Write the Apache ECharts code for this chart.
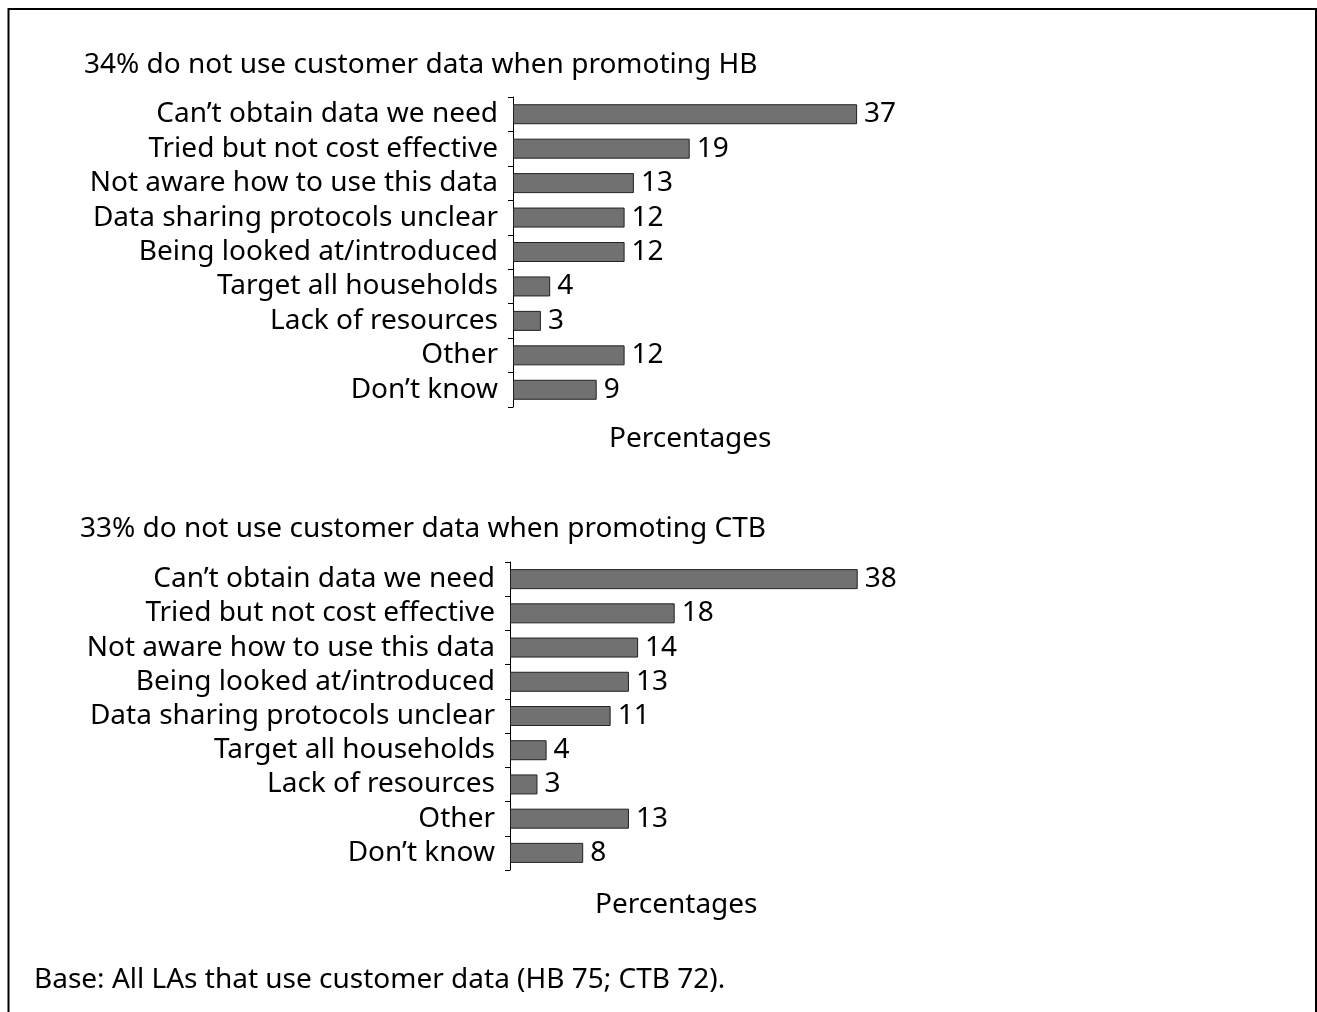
<!DOCTYPE html>
<html><head><meta charset="utf-8">
<script src="https://cdn.jsdelivr.net/npm/echarts@6/dist/echarts.min.js"></script>
<style>html,body{margin:0;padding:0;background:#fff}#c{width:1317px;height:1012px}</style>
</head><body><div id="c"></div>
<script>
const hbCategories = ["Can\u2019t obtain data we need","Tried but not cost effective","Not aware how to use this data","Data sharing protocols unclear","Being looked at/introduced","Target all households","Lack of resources","Other","Don\u2019t know"];
const hbValues = [37,19,13,12,12,4,3,12,9];
const ctbCategories = ["Can\u2019t obtain data we need","Tried but not cost effective","Not aware how to use this data","Being looked at/introduced","Data sharing protocols unclear","Target all households","Lack of resources","Other","Don\u2019t know"];
const ctbValues = [38,18,14,13,11,4,3,13,8];
const titleHB = "34% do not use customer data when promoting HB";
const titleCTB = "33% do not use customer data when promoting CTB";
const axisName = "Percentages";
const baseNote = "Base: All LAs that use customer data (HB 75; CTB 72).";

const FONT = "Noto Sans";
const FS = 28;
const chart = echarts.init(document.getElementById('c'), null, {renderer:'canvas'});
function catAxis(idx, cats){
  return {type:'category', gridIndex:idx, data:cats, inverse:true,
    axisLine:{show:true, lineStyle:{color:'#000', width:1}},
    axisTick:{show:true, length:5, lineStyle:{color:'#000'}},
    axisLabel:{color:'#000', fontFamily:FONT, fontSize:FS, margin:15, interval:0, hideOverlap:false}};
}
function valAxis(idx){
  return {type:'value', gridIndex:idx, min:0, max:40, show:false};
}
function bars(idx, vals){
  return {type:'bar', xAxisIndex:idx, yAxisIndex:idx, data:vals, barWidth:20,
    itemStyle:{color:'#717171', borderColor:'#222', borderWidth:1},
    label:{show:true, position:'right', distance:7, color:'#000', fontFamily:FONT, fontSize:FS},
    animation:false};
}
const txt = (text, left, top) => ({text, left, top, textStyle:{color:'#000', fontFamily:FONT, fontSize:FS, fontWeight:'normal'}});
chart.setOption({
  animation:false,
  title:[
    txt(titleHB, 79, 46),
    txt(axisName, 604, 420),
    txt(titleCTB, 75, 510),
    txt(baseNote, 29, 961),
    txt(axisName, 590, 886)
  ],
  graphic:[{type:'rect', shape:{x:8.5, y:9, width:1307.5, height:1100}, style:{fill:'none', stroke:'#000', lineWidth:2}}],
  grid:[
    {left:513, top:97, width:372, height:310},
    {left:510, top:562, width:366, height:308}
  ],
  xAxis:[valAxis(0), valAxis(1)],
  yAxis:[catAxis(0, hbCategories), catAxis(1, ctbCategories)],
  series:[bars(0, hbValues), bars(1, ctbValues)]
});
</script></body></html>
